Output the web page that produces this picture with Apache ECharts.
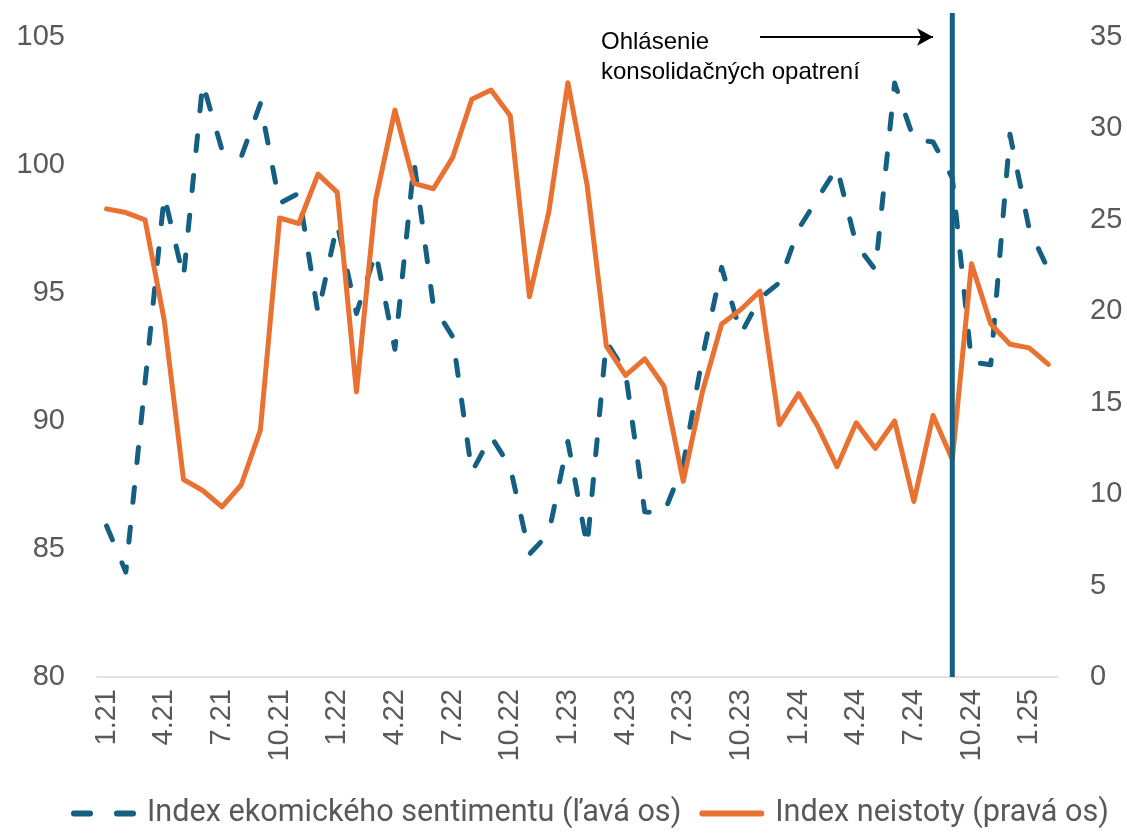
<!DOCTYPE html>
<html><head><meta charset="utf-8">
<script src="https://cdn.jsdelivr.net/npm/echarts@6/dist/echarts.min.js"></script>
<style>html,body{margin:0;padding:0;background:#fff}#c{width:1127px;height:834px}</style>
</head><body><div id="c"></div>
<script>
const months = ['1.21','2.21','3.21','4.21','5.21','6.21','7.21','8.21','9.21','10.21','11.21','12.21',
  '1.22','2.22','3.22','4.22','5.22','6.22','7.22','8.22','9.22','10.22','11.22','12.22',
  '1.23','2.23','3.23','4.23','5.23','6.23','7.23','8.23','9.23','10.23','11.23','12.23',
  '1.24','2.24','3.24','4.24','5.24','6.24','7.24','8.24','9.24','10.24','11.24','12.24',
  '1.25','2.25'];
const sentiment = [85.9,84.1,91.5,98.8,95.6,103.2,100.6,100.3,102.4,98.5,98.9,94.2,
  97.7,94.2,96.6,92.8,100.1,94.5,93.3,88.0,89.4,88.2,84.8,85.6,
  89.2,85.1,93.1,91.9,86.45,86.4,88.3,92.5,96.0,93.4,94.8,95.4,
  97.5,98.7,99.9,96.9,95.9,103.2,101.0,100.9,99.5,92.3,92.2,101.2,
  97.5,95.9];
const uncertainty = [25.6,25.4,25.0,19.5,10.8,10.2,9.3,10.5,13.5,25.1,24.8,27.5,
  26.5,15.6,26.1,31.0,27.0,26.7,28.4,31.6,32.1,30.7,20.8,25.4,
  32.5,26.9,18.1,16.5,17.4,15.9,10.7,15.6,19.3,20.1,21.1,13.8,
  15.5,13.7,11.5,13.9,12.5,14.0,9.6,14.3,11.9,22.6,19.3,18.2,
  18.0,17.1];
const leftTicks = {min: 80, max: 105, interval: 5};
const rightTicks = {min: 0, max: 35, interval: 5};
const eventMonth = '9.24';
const arrowFrom = '11.23', arrowTo = '8.24', arrowLevel = 105;
const noteText = 'Ohlásenie\nkonsolidačných opatrení';
const names = ['Index ekomického sentimentu (ľavá os)', 'Index neistoty (pravá os)'];

const BLUE = '#156082', ORANGE = '#E97132', GREY = '#595959';
const FONT = 'Liberation Sans';
const chart = echarts.init(document.getElementById('c'));
chart.setOption({
  animation: false,
  textStyle: {fontFamily: FONT},
  grid: {left: 97, right: 69, top: 37, bottom: 157, containLabel: false},
  legend: {
    bottom: 0, left: 66, itemWidth: 65, itemHeight: 6, itemGap: 18,
    textStyle: {fontSize: 30.6, color: GREY, fontFamily: 'Roboto', padding: [0, 0, 0, 6]},
    data: [
      {name: names[0], icon: 'path://M3,0h16a3,3 0 0 1 0,6h-16a3,3 0 0 1 0,-6z M46,0h16a3,3 0 0 1 0,6h-16a3,3 0 0 1 0,-6z'},
      {name: names[1], icon: 'path://M3,0h59a3,3 0 0 1 0,6h-59a3,3 0 0 1 0,-6z'}
    ]
  },
  xAxis: {
    type: 'category', data: months, boundaryGap: true,
    axisLine: {lineStyle: {color: '#d9d9d9', width: 1.5}},
    axisTick: {show: false},
    axisLabel: {interval: 2, rotate: 90, fontSize: 29, color: GREY, margin: 12}
  },
  yAxis: [
    {type: 'value', min: leftTicks.min, max: leftTicks.max, interval: leftTicks.interval,
     splitLine: {show: false}, axisLine: {show: false}, axisTick: {show: false},
     axisLabel: {fontSize: 29, color: GREY, margin: 32}},
    {type: 'value', min: rightTicks.min, max: rightTicks.max, interval: rightTicks.interval,
     splitLine: {show: false}, axisLine: {show: false}, axisTick: {show: false},
     axisLabel: {fontSize: 29, color: GREY, margin: 32}}
  ],
  series: [
    {name: names[0], type: 'line', yAxisIndex: 0, data: sentiment, symbol: 'none', clip: false,
     lineStyle: {color: BLUE, width: 5, type: [15, 25], cap: 'round', join: 'round'},
     itemStyle: {color: BLUE},
     markLine: {silent: true, animation: false,
       data: [[{coord: [arrowFrom, arrowLevel], symbol: 'none'}, {coord: [arrowTo, arrowLevel], symbol: 'arrow', symbolSize: [13, 16]}]],
       lineStyle: {color: '#000', width: 2, type: 'solid'}, label: {show: false}}
    },
    {name: names[1], type: 'line', yAxisIndex: 1, data: uncertainty, symbol: 'none', z: 3,
     lineStyle: {color: ORANGE, width: 5, join: 'round', cap: 'round'},
     itemStyle: {color: ORANGE}}
  ]
});
const vx = chart.convertToPixel({xAxisIndex: 0}, eventMonth);
const vb = chart.convertToPixel({yAxisIndex: 0}, leftTicks.min);
const vt = chart.convertToPixel({yAxisIndex: 0}, leftTicks.max + 0.94);
chart.setOption({
  graphic: [
    {type: 'line', z: 10, shape: {x1: vx, y1: vt, x2: vx, y2: vb}, style: {stroke: BLUE, lineWidth: 5}},
    {type: 'text', left: 601, top: 27, z: 10,
     style: {text: noteText, font: '24px "Liberation Sans"', fill: '#000', lineHeight: 30}}
  ]
});
</script></body></html>
